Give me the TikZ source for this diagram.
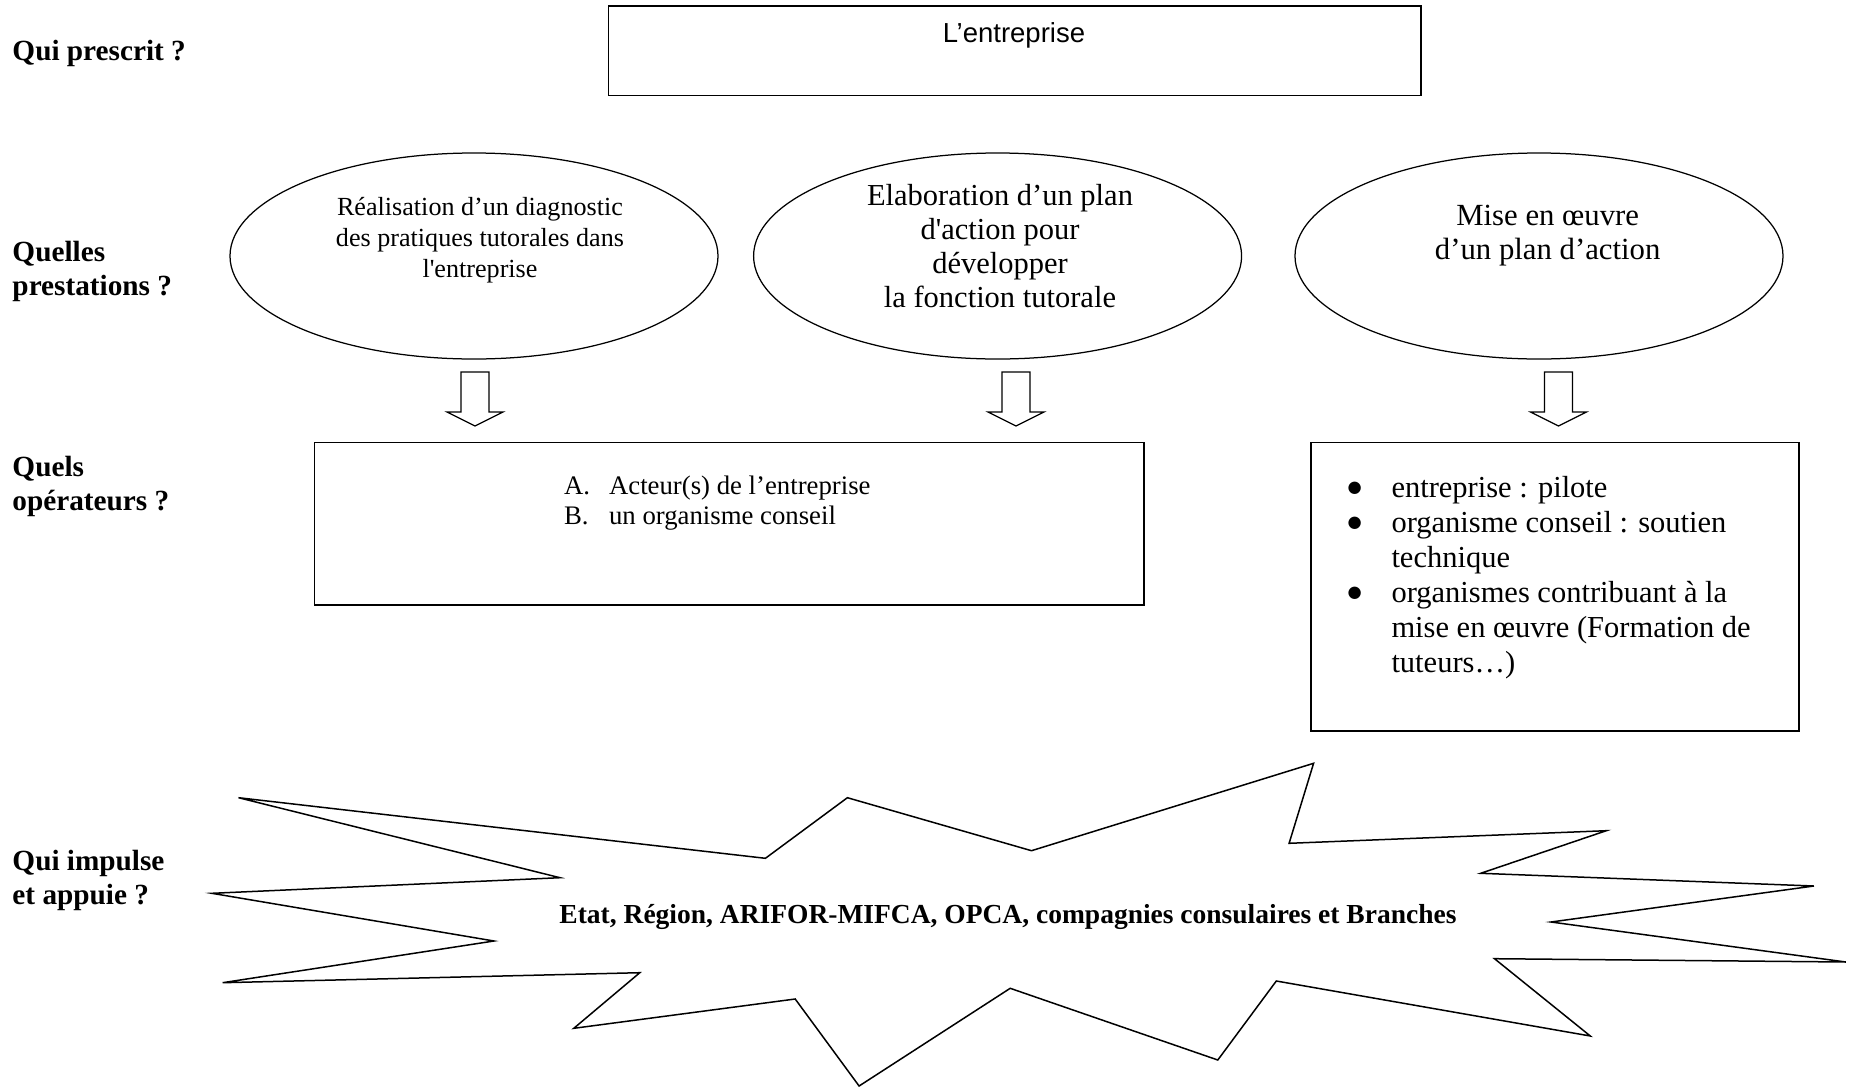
\documentclass[tikz,border=0pt]{standalone}
\usepackage{fontspec}
\setmainfont{Liberation Serif}
\newfontfamily\arialfont{Liberation Sans}
\newfontfamily\dejavufont{DejaVu Sans}
\usetikzlibrary{shapes.geometric}
\newcommand\bigbullet{\raisebox{1.8pt}{\dejavufont\fontsize{6.5}{7}\selectfont ●}}
\begin{document}
\begin{tikzpicture}[x=0.4pt,y=-0.4pt,
  lbl/.style={anchor=base west, inner sep=0pt, font=\fontsize{11.7}{13.6}\selectfont\bfseries},
  boxnode/.style={draw, line width=0.6pt, inner sep=0pt},
  ell/.style={draw, ellipse, line width=0.5pt, inner sep=0pt, minimum width=195.2pt, minimum height=82.4pt},
  txt/.style={inner sep=0pt, anchor=base},
  blockarr/.style={draw, line width=0.5pt, line join=miter},
  burst/.style={draw, line width=0.6pt, line join=miter}]
\useasboundingbox (0,0) rectangle (1849,1087);

% left labels
\node[lbl] (l1) at (12,60) {Qui prescrit ?};
\node[lbl] (l2) at (12,261) {\begin{tabular}[t]{@{}l@{}}Quelles\\prestations ?\end{tabular}};
\node[lbl] (l3) at (12,476) {\begin{tabular}[t]{@{}l@{}}Quels\\opérateurs ?\end{tabular}};
\node[lbl] (l4) at (12,870) {\begin{tabular}[t]{@{}l@{}}Qui impulse\\et appuie ?\end{tabular}};

% top box
\node[boxnode, minimum width=325pt, minimum height=35.84pt] (top) at (1014.75,50.7) {};
\node[txt, font=\arialfont\fontsize{11}{13}\selectfont] (toptxt) at (1014,42.5) {L’entreprise};

% ellipses
\node[ell] (e1) at (474,256) {};
\node[ell] (e2) at (997.6,256) {};
\node[ell] (e3) at (1539,256) {};
\node[txt, font=\fontsize{10.45}{12.3}\selectfont] (e1t) at (480,215.5)
  {\begin{tabular}[t]{@{}c@{}}Réalisation d’un diagnostic\\des pratiques tutorales dans\\l\textquotesingle entreprise\end{tabular}};
\node[txt, font=\fontsize{12.2}{13.7}\selectfont] (e2t) at (1000,205)
  {\begin{tabular}[t]{@{}c@{}}Elaboration d’un plan\\d\textquotesingle action pour\\développer\\la fonction tutorale\end{tabular}};
\node[txt, font=\fontsize{12.3}{13.7}\selectfont] (e3t) at (1547.7,225.2)
  {\begin{tabular}[t]{@{}c@{}}Mise en œuvre\\d’un plan d’action\end{tabular}};

% block arrows
\coordinate (a1) at (475,372);
\coordinate (a2) at (1016,372);
\coordinate (a3) at (1558.5,372);
\foreach \a in {a1,a2,a3}{
  \draw[blockarr] (\a) ++(-14,0) -- ++(0,40) -- ++(-14,0) -- ++(28,14) -- ++(28,-14) -- ++(-14,0) -- ++(0,-40) -- cycle;
}

% operator boxes
\node[boxnode, minimum width=331.76pt, minimum height=64.9pt] (b1) at (729.1,523.85) {};
\node[anchor=base west, inner sep=0pt, font=\fontsize{10.7}{12.3}\selectfont] (b1t) at (563.6,494)
  {\begin{tabular}[t]{@{}l@{}}\makebox[18pt][l]{A.}Acteur(s) de l’entreprise\\\makebox[18pt][l]{B.}un organisme conseil\end{tabular}};

\node[boxnode, minimum width=195.2pt, minimum height=115.4pt] (b2) at (1555,586.75) {};
\node[anchor=base west, inner sep=0pt, font=\fontsize{12.2}{14.05}\selectfont] (b2t) at (1347,497)
  {\begin{tabular}[t]{@{}l@{}}\makebox[17.6pt][l]{\bigbullet}entreprise : pilote\\
   \makebox[17.6pt][l]{\bigbullet}organisme conseil : soutien\\
   \makebox[17.6pt][l]{}technique\\
   \makebox[17.6pt][l]{\bigbullet}organismes contribuant à la\\
   \makebox[17.6pt][l]{}mise en œuvre (Formation de\\
   \makebox[17.6pt][l]{}tuteurs…)\end{tabular}};

% starburst
\draw[burst] (238.5,797.7) -- (765.4,858.3) -- (847.4,797.7) -- (1031.5,850.7) -- (1313.6,763.3)
  -- (1289.1,843.3) -- (1606.3,830.7) -- (1480.7,873.3) -- (1813.9,886) -- (1551,922)
  -- (1845.8,962) -- (1494.5,958.7) -- (1590.3,1036) -- (1276.3,981) -- (1217.8,1060)
  -- (1010.2,988.3) -- (859.1,1086) -- (795.2,999) -- (573.8,1028.3) -- (639.8,972.7)
  -- (222.6,982.7) -- (494,941) -- (211.9,893.3) -- (560,877.7) -- cycle;
\node[txt, font=\fontsize{11}{13}\selectfont\bfseries] (bt) at (1008,923.5)
  {Etat, Région, ARIFOR-MIFCA, OPCA, compagnies consulaires et Branches};
\end{tikzpicture}
\end{document}
